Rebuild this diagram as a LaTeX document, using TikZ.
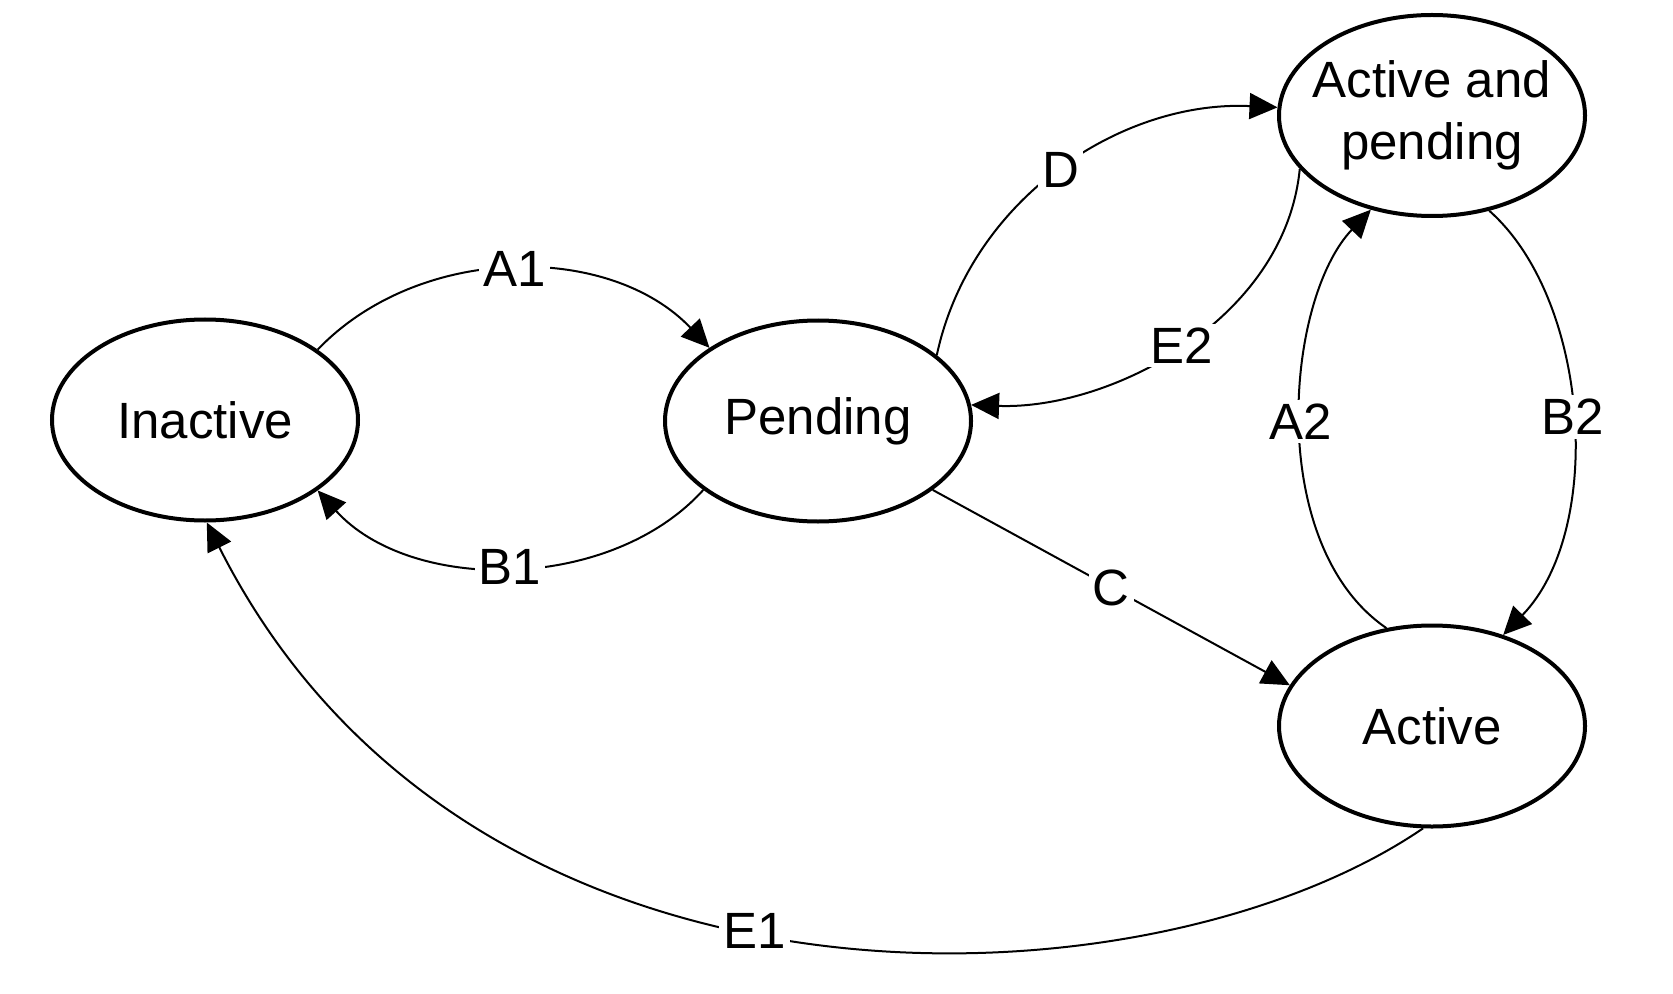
\documentclass[tikz,border=0pt]{standalone}
\usepackage{fontspec}
\setmainfont{Liberation Sans}
\usetikzlibrary{arrows.meta,shapes.geometric}
\begin{document}
\begin{tikzpicture}[x=0.5pt,y=-0.5pt,
  txt/.style={font=\fontsize{25.5}{31}\selectfont},
  state/.style={draw,ellipse,line width=2pt,minimum width=153pt,minimum height=100.5pt,inner sep=0pt,align=center,txt},
  edge/.style={line width=1pt,-{Triangle[length=14pt,width=13pt]}},
  lbl/.style={fill=white,inner sep=2pt,txt}]
\useasboundingbox (0,0) rectangle (1673,994);
\node[state] (inactive) at (205,420) {Inactive};
\node[state] (pending) at (818,421) {Pending};
\node[state,label={[txt,align=center,inner sep=0pt]center:Active and\\pending}] (ap) at (1432,115.5) {};
\node[state] (active) at (1432,726) {Active};
% A1
\draw[edge] (inactive.32) .. controls (420,243) and (610,243) .. node[lbl,pos=0.5]{A1} (pending.146);
% B1
\draw[edge] (pending.211.5) .. controls (610,593) and (410,593) .. node[lbl,pos=0.5]{B1} (inactive.328.3);
% E1
\draw[edge] (active.265) .. controls (1150,1015) and (470,1045) .. node[lbl,pos=0.54]{E1} (inactive.271);
% C
\draw[edge] (pending.329.3) -- node[lbl,pos=0.5]{C} (active.164.5);
% D
\draw[edge] (pending.29.2) .. controls (970,200) and (1120,100) .. node[lbl,pos=0.5]{D} (ap.177);
% E2
\draw[edge] (ap.202.4) .. controls (1285,320) and (1110,410) .. node[lbl,pos=0.5]{E2} (pending.6.7);
% A2
\draw[edge] (active.115.4) .. controls (1265,545) and (1285,300) .. node[lbl,pos=0.5]{A2} (ap.237.3);
% B2
\draw[edge] (ap.301.9) .. controls (1590,300) and (1605,530) .. node[lbl,pos=0.5]{B2} (active.52.7);
\end{tikzpicture}
\end{document}
